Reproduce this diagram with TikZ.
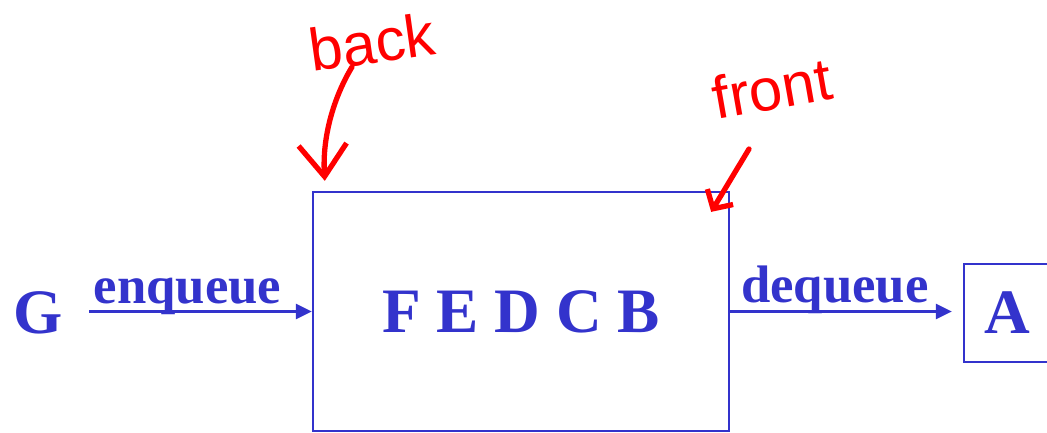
\documentclass[tikz,border=0pt]{standalone}
\usepackage{fontspec}
\setmainfont{Liberation Serif}
\newfontfamily\handfont{Liberation Sans}
\usetikzlibrary{arrows.meta}
\definecolor{qblue}{HTML}{3333CC}
\definecolor{pen}{HTML}{FF0000}

\begin{document}
\begin{tikzpicture}[
  x=0.01cm, y=-0.01cm,
  >={Triangle[length=0.16cm,width=0.15cm]},
  letter/.style={text=qblue, font=\fontsize{18}{20}\selectfont\bfseries, inner sep=0pt},
  op/.style={text=qblue, font=\fontsize{15}{17}\selectfont\bfseries, inner sep=0pt, anchor=base},
  box/.style={draw=qblue, line width=0.6pt, inner sep=0pt},
  arr/.style={->, draw=qblue, line width=0.8pt},
  ink/.style={draw=pen, line width=1.5pt, line cap=round, line join=round},
  note/.style={text=pen, font=\handfont\fontsize{17}{19}\selectfont, inner sep=0pt},
]
% pixel grid: x to the right, y downwards, picture 1047 x 433
\useasboundingbox (0,0) rectangle (1047,433);

% --- Queue ------------------------------------------------------------------
\node[box, letter, minimum width=4.16cm, minimum height=2.39cm] (queue) at (521,311.5) {F E D C B};
\node[letter, anchor=base] (G) at (38,333) {G};
\node[box, letter, minimum width=0.86cm, minimum height=0.98cm] (A) at (1007,313) {A};

\draw[arr, shorten <=0.26cm] (G.east |- queue.west) -- node[op, pos=0.5, yshift=0.08cm] {enqueue} (queue.west);
\draw[arr, shorten >=0.11cm] (queue.east) -- node[op, pos=0.45, yshift=0.09cm] {dequeue} (queue.east -| A.west);

% --- Handwritten notes ------------------------------------------------------
\node[note, rotate=8] (back) at (372,42) {back};
\node[note, rotate=10] (front) at (772,88) {front};
\draw[ink, -{Straight Barb[length=0.32cm,width=0.48cm]}] ([shift={(-20,25)}]back.center)
  .. controls (335,95) and (322,135) .. ([shift={(13,-10)}]queue.north west);
\draw[ink, -{Straight Barb[length=0.14cm,width=0.3cm]}] ([shift={(-23,61)}]front.center)
  -- ([shift={(-19,21)}]queue.north east);

\end{tikzpicture}
\end{document}
